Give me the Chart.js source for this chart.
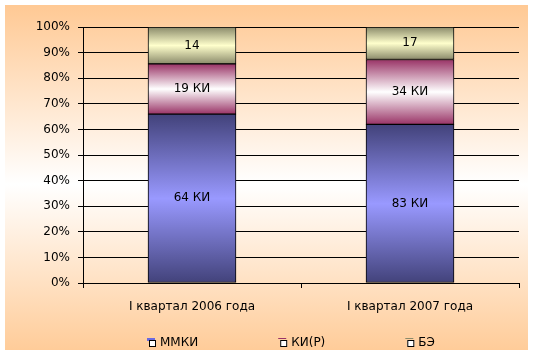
<!DOCTYPE html>
<html>
<head>
<meta charset="utf-8">
<script src="https://cdn.jsdelivr.net/npm/chart.js@4"></script>
<style>
  html, body { margin: 0; padding: 0; background: #fff; }
  #wrap { width: 535px; height: 358px; }
</style>
</head>
<body>
<div id="wrap"><canvas id="c" width="535" height="358"></canvas></div>
<script>
// ---- data ----
const categories = ['I квартал 2006 года', 'I квартал 2007 года'];
const seriesNames = ['ММКИ', 'КИ(Р)', 'БЭ'];
const mmki = [64, 83];
const kir = [19, 34];
const be = [14, 17];
const labelSuffix = [' КИ', ' КИ', ''];
const yTickValues = [0, 10, 20, 30, 40, 50, 60, 70, 80, 90, 100];

// ---- styles ----
const edgeColors = ['#42427a', '#993366', '#8a8a6a'];
const midColors = ['#9999ff', '#ffffff', '#ffffcc'];
const legendAccent = ['#6a6ae0', '#993366', '#8a8a6a'];

const rawSeries = [mmki, kir, be];
const totals = categories.map((_, i) => rawSeries.reduce((s, arr) => s + arr[i], 0));
const pctSeries = rawSeries.map(arr => arr.map((v, i) => v / totals[i] * 100));

function makeGradient(ctx) {
  const chart = ctx.chart;
  const ds = ctx.datasetIndex;
  if (ctx.type !== 'data' || !chart.chartArea || !chart.scales.y) return midColors[ds];
  const i = ctx.dataIndex;
  let base = 0;
  for (let k = 0; k < ds; k++) base += pctSeries[k][i];
  const top = base + pctSeries[ds][i];
  const y0 = chart.scales.y.getPixelForValue(base);
  const y1 = chart.scales.y.getPixelForValue(top);
  if (!isFinite(y0) || !isFinite(y1)) return midColors[ds];
  const g = chart.ctx.createLinearGradient(0, y1, 0, y0);
  g.addColorStop(0, edgeColors[ds]);
  g.addColorStop(0.5, midColors[ds]);
  g.addColorStop(1, edgeColors[ds]);
  return g;
}

const bgPlugin = {
  id: 'bg',
  beforeDraw(chart) {
    const c = chart.ctx;
    c.save();
    c.fillStyle = '#ffffff';
    c.fillRect(0, 0, chart.width, chart.height);
    const g = c.createLinearGradient(0, 5, 0, 350);
    g.addColorStop(0, '#ffc994');
    g.addColorStop(0.52, '#ffffff');
    g.addColorStop(1, '#ffcc99');
    c.fillStyle = g;
    c.fillRect(5, 5, 523, 345);
    c.restore();
  }
};

const labelPlugin = {
  id: 'segLabels',
  afterDatasetsDraw(chart) {
    const c = chart.ctx;
    c.save();
    c.font = '12px "DejaVu Sans"';
    c.fillStyle = '#000';
    c.textAlign = 'center';
    c.textBaseline = 'middle';
    chart.data.datasets.forEach((ds, di) => {
      const meta = chart.getDatasetMeta(di);
      meta.data.forEach((el, i) => {
        const y = (el.y + el.base) / 2;
        c.fillText(rawSeries[di][i] + labelSuffix[di], el.x, y);
      });
    });
    c.restore();
  }
};

const legendPlugin = {
  id: 'customLegend',
  afterDraw(chart) {
    const c = chart.ctx;
    c.save();
    c.font = '12px "DejaVu Sans"';
    c.textBaseline = 'middle';
    c.textAlign = 'left';
    let x = 149;
    const y = 340;
    seriesNames.forEach((name, k) => {
      c.fillStyle = legendAccent[k];
      c.fillRect(x - 2, y - 2, 8, k === 0 ? 3 : 1);
      c.fillStyle = '#fff';
      c.fillRect(x, y, 7, 7);
      c.strokeStyle = '#000';
      c.lineWidth = 1;
      c.strokeRect(x + 0.5, y + 0.5, 6, 6);
      c.fillStyle = '#000';
      const tx = x + 11;
      c.fillText(name, tx, y + 3);
      x = tx + c.measureText(name).width + 82;
    });
    c.restore();
  }
};

Chart.defaults.font.family = '"DejaVu Sans"';
Chart.defaults.font.size = 12;
Chart.defaults.color = '#000';

new Chart(document.getElementById('c'), {
  type: 'bar',
  data: {
    labels: categories,
    datasets: seriesNames.map((name, k) => ({
      label: name,
      data: pctSeries[k],
      backgroundColor: makeGradient,
      borderColor: '#000',
      borderWidth: 1,
      borderSkipped: false,
      barThickness: 88
    }))
  },
  options: {
    responsive: false,
    animation: false,
    layout: { padding: { left: 0, right: 16, top: 27, bottom: 0 } },
    plugins: {
      legend: { display: false },
      tooltip: { enabled: false }
    },
    scales: {
      x: {
        stacked: true,
        grid: { drawOnChartArea: false, color: '#000', tickLength: 5, offset: true },
        border: { display: true, color: '#000' },
        ticks: { padding: 12, maxRotation: 0, autoSkip: false },
        afterFit(scale) { scale.height = 75; }
      },
      y: {
        stacked: true,
        min: 0,
        max: 100,
        afterBuildTicks(scale) { scale.ticks = yTickValues.map(v => ({ value: v })); },
        ticks: { padding: 8, callback: v => v + '%' },
        grid: { color: '#000', tickLength: 5 },
        border: { display: true, color: '#000' },
        afterFit(scale) { scale.width = 83; }
      }
    }
  },
  plugins: [bgPlugin, labelPlugin, legendPlugin]
});
</script>
</body>
</html>
